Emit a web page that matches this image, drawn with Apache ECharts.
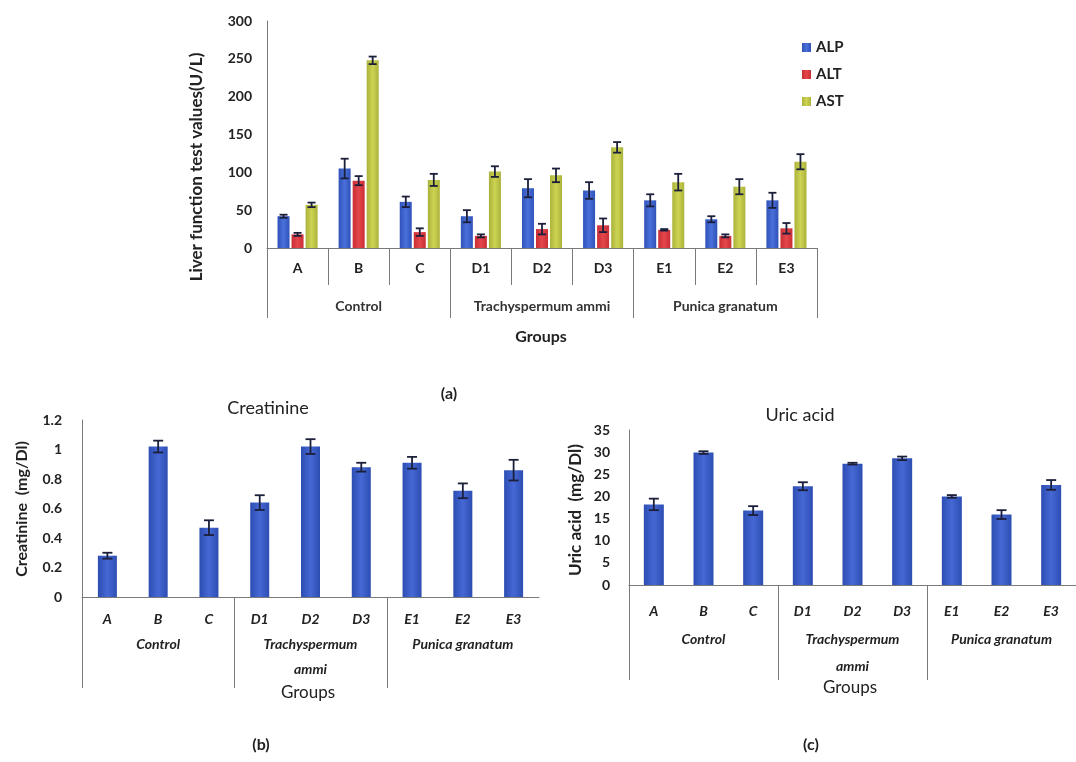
<!DOCTYPE html>
<html><head><meta charset="utf-8">
<script src="https://cdn.jsdelivr.net/npm/echarts@6/dist/echarts.min.js"></script>
<style>html,body{margin:0;padding:0;background:#fff}#c{width:1076px;height:762px}</style>
</head><body><div id="c"></div>
<script>
const categories = ['A','B','C','D1','D2','D3','E1','E2','E3'];
const groups = ['Control','Trachyspermum ammi','Punica granatum'];
const groupsBottom = ['Control','Trachyspermum\nammi','Punica granatum'];
const groupStart = [0,3,6];
const alp = [42,105,61,42,79,76,63,38,63];
const alpErr = [2,13,7,8,12,11,8,4,10];
const alt = [18,89,21,16,25,30,24,16,26];
const altErr = [2,6,5,2,7,9,1,2,7];
const ast = [57,248,90,101,96,133,87,81,114];
const astErr = [3,5,8,7,9,7,11,10,10];
const creat = [0.28,1.02,0.47,0.64,1.02,0.88,0.91,0.72,0.86];
const creatErr = [0.02,0.04,0.05,0.05,0.05,0.03,0.04,0.05,0.07];
const uric = [18.2,29.9,16.8,22.3,27.4,28.6,20.0,15.9,22.6];
const uricErr = [1.3,0.3,1.0,0.9,0.2,0.4,0.3,1.0,1.1];

const FONT = 'Lato, "Open Sans", sans-serif';
const AX = '#7a7a7a';
function grad(dark, light){
  return new echarts.graphic.LinearGradient(0,0,1,0,[{offset:0,color:dark},{offset:0.5,color:light},{offset:1,color:dark}]);
}
const cALP = grad('#2f52b8','#4a70da');
const cALT = grad('#c82e34','#e4464b');
const cAST = grad('#aab23a','#cdd453');
const cBlue = grad('#2c4db2','#4668d4');

function errSeries(vals, errs, xi, yi, offset, half){
  return {
    type:'custom', xAxisIndex:xi, yAxisIndex:yi, z:10, silent:true,
    data: vals.map((v,i)=>[i, v, errs[i]]),
    renderItem: function(params, api){
      const i = api.value(0), v = api.value(1), e = api.value(2);
      const p1 = api.coord([i, v+e]), p2 = api.coord([i, v-e]);
      const x = p1[0] + offset;
      const st = {stroke:'#1b1f3a', lineWidth:1.8};
      return {type:'group', children:[
        {type:'line', shape:{x1:x, y1:p1[1], x2:x, y2:p2[1]}, style:st},
        {type:'line', shape:{x1:x-half, y1:p1[1], x2:x+half, y2:p1[1]}, style:st},
        {type:'line', shape:{x1:x-half, y1:p2[1], x2:x+half, y2:p2[1]}, style:st}
      ]};
    }
  };
}
function sepSeries(xi, yi, len){
  return {
    type:'custom', xAxisIndex:xi, yAxisIndex:yi, silent:true, clip:false,
    data: groupStart.map(s=>[s, 0]),
    renderItem: function(params, api){
      const band = api.size([1,0])[0];
      const p = api.coord([api.value(0), 0]);
      const x = Math.round(p[0] - band/2) + 0.5;
      return {type:'line', shape:{x1:x, y1:p[1], x2:x, y2:p[1]+len}, style:{stroke:AX, lineWidth:1}};
    }
  };
}
function yAx(gi, min, max, interval, margin){
  return {type:'value', gridIndex:gi, min:min, max:max, interval:interval,
    splitLine:{show:false}, axisLine:{show:true, lineStyle:{color:AX}}, axisTick:{show:false},
    axisLabel:{margin:margin, color:'#222', fontWeight:'bold', fontSize:14, fontFamily:FONT}};
}
function txt(x, y, text, size, weight, rot){
  const o = {type:'text', x:x, y:y, style:{text:text, fontSize:size, fontWeight:weight, fontFamily:FONT, fill:'#222', align:'center', verticalAlign:'middle'}};
  if (rot) o.rotation = rot;
  return o;
}

const chart = echarts.init(document.getElementById('c'), null, {renderer:'canvas'});
chart.setOption({
  animation:false,
  backgroundColor:'#fff',
  textStyle:{fontFamily:FONT},
  legend:{data:['ALP','ALT','AST'], orient:'vertical', left:797, top:35, itemWidth:9, itemHeight:9, itemGap:12,
    icon:'rect', textStyle:{fontSize:15, fontWeight:'bold', color:'#222', fontFamily:FONT}},
  grid:[
    {left:267, top:21, width:550, height:227},
    {left:82, top:420, width:457, height:177},
    {left:629, top:430, width:447, height:155}
  ],
  xAxis:[
    {type:'category', gridIndex:0, data:categories, position:'bottom',
      axisLine:{lineStyle:{color:AX}}, axisTick:{show:true, interval:0, length:37, lineStyle:{color:AX}},
      axisLabel:{interval:0, margin:13, fontSize:14, fontWeight:'bold', color:'#222', fontFamily:FONT}},
    {type:'category', gridIndex:0, data:groups, position:'bottom',
      axisLine:{show:false}, axisTick:{show:true, interval:0, length:70, lineStyle:{color:AX}},
      axisLabel:{interval:0, margin:51, fontSize:14, fontWeight:'bold', color:'#333', fontFamily:FONT}},
    {type:'category', gridIndex:1, data:categories, position:'bottom',
      axisLine:{lineStyle:{color:AX}}, axisTick:{show:false},
      axisLabel:{interval:0, margin:15, fontSize:14, fontWeight:'bold', fontStyle:'italic', color:'#222', fontFamily:FONT}},
    {type:'category', gridIndex:1, data:groupsBottom, position:'bottom',
      axisLine:{show:false}, axisTick:{show:false},
      axisLabel:{interval:0, margin:35, fontSize:14, fontWeight:'bold', lineHeight:25, fontStyle:'italic', color:'#222', fontFamily:FONT}},
    {type:'category', gridIndex:2, data:categories, position:'bottom',
      axisLine:{lineStyle:{color:AX}}, axisTick:{show:false},
      axisLabel:{interval:0, margin:19, fontSize:14, fontWeight:'bold', fontStyle:'italic', color:'#222', fontFamily:FONT}},
    {type:'category', gridIndex:2, data:groupsBottom, position:'bottom',
      axisLine:{show:false}, axisTick:{show:false},
      axisLabel:{interval:0, margin:41, fontSize:14, fontWeight:'bold', lineHeight:27, fontStyle:'italic', color:'#222', fontFamily:FONT}}
  ],
  yAxis:[
    yAx(0, 0, 300, 50, 15),
    yAx(1, 0, 1.2, 0.2, 20),
    yAx(2, 0, 35, 5, 19)
  ],
  series:[
    {name:'ALP', type:'bar', xAxisIndex:0, yAxisIndex:0, data:alp, barWidth:12, barGap:'17%', itemStyle:{color:cALP}},
    {name:'ALT', type:'bar', xAxisIndex:0, yAxisIndex:0, data:alt, barWidth:12, barGap:'17%', itemStyle:{color:cALT}},
    {name:'AST', type:'bar', xAxisIndex:0, yAxisIndex:0, data:ast, barWidth:12, barGap:'17%', itemStyle:{color:cAST}},
    errSeries(alp, alpErr, 0, 0, -14, 4),
    errSeries(alt, altErr, 0, 0, 0, 4),
    errSeries(ast, astErr, 0, 0, 14, 4),
    {name:'Creatinine', type:'bar', xAxisIndex:2, yAxisIndex:1, data:creat, barWidth:19, itemStyle:{color:cBlue}},
    errSeries(creat, creatErr, 2, 1, 0, 5),
    sepSeries(2, 1, 91),
    {name:'Uric acid', type:'bar', xAxisIndex:4, yAxisIndex:2, data:uric, barWidth:20, itemStyle:{color:cBlue}},
    errSeries(uric, uricErr, 4, 2, 0, 5),
    sepSeries(4, 2, 95)
  ],
  graphic:[
    txt(197, 167, 'Liver function test values(U/L)', 17, 'bold', Math.PI/2),
    txt(541, 337, 'Groups', 16, 'bold'),
    txt(449, 394, '(a)', 16, 'bold'),
    txt(268, 408, 'Creatinine', 18, 'normal'),
    txt(800, 415, 'Uric acid', 18, 'normal'),
    txt(22, 509, 'Creatinine  (mg/Dl)', 16, 'bold', Math.PI/2),
    txt(576, 510, 'Uric acid  (mg/Dl)', 17, 'bold', Math.PI/2),
    txt(308, 693, 'Groups', 17, 'normal'),
    txt(850, 688, 'Groups', 17, 'normal'),
    txt(261, 745, '(b)', 16, 'bold'),
    txt(811, 745, '(c)', 16, 'bold')
  ]
});
</script></body></html>
